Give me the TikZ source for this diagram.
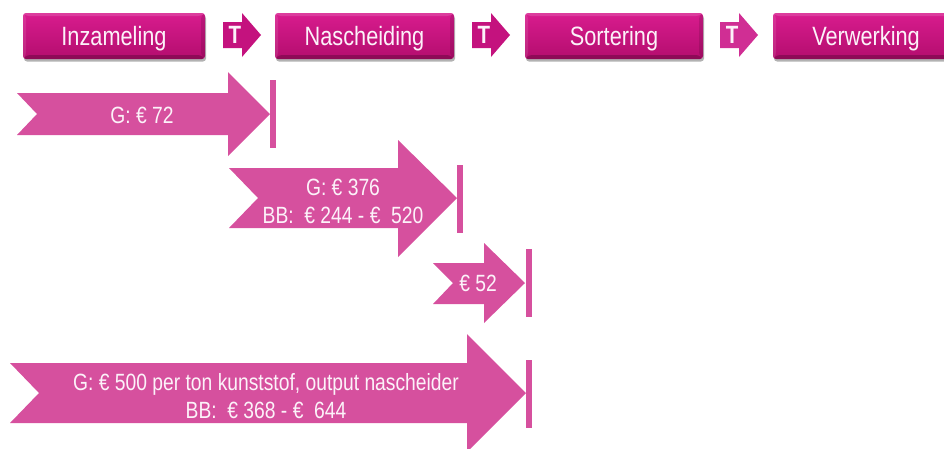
\documentclass[tikz,border=0pt]{standalone}
\usepackage{fontspec}
\setmainfont[FakeStretch=0.82]{Liberation Sans}
\usetikzlibrary{shadows}

\definecolor{flowpink}{RGB}{214,80,158}
\definecolor{stagetop}{RGB}{216,28,142}
\definecolor{stagebot}{RGB}{180,13,110}
\definecolor{tmark}{RGB}{196,18,126}
\definecolor{tmarklight}{RGB}{208,46,148}
\definecolor{labelwhite}{RGB}{252,242,249}

\tikzset{
  stage/.style={rounded corners=3pt, top color=stagetop, bottom color=stagebot,
    minimum height=46pt, inner sep=0pt, text=labelwhite,
    font=\fontsize{26.5}{30}\selectfont, text height=19pt, text depth=0pt,
    drop shadow={shadow xshift=1pt, shadow yshift=-2.5pt, opacity=0.3, fill=black},
    path picture={
      \coordinate (bb-sw) at (path picture bounding box.south west);
      \coordinate (bb-ne) at (path picture bounding box.north east);
      \fill[black, opacity=0.22] (bb-sw) -- (bb-sw -| bb-ne)
        -- ([shift={(-4pt,4pt)}]bb-sw -| bb-ne) -- ([shift={(4pt,4pt)}]bb-sw) -- cycle;
      \fill[black, opacity=0.12] (bb-sw -| bb-ne) -- (bb-ne)
        -- ([shift={(-4pt,-3pt)}]bb-ne) -- ([shift={(-4pt,4pt)}]bb-sw -| bb-ne) -- cycle;
      \fill[white, opacity=0.10] (bb-sw) -- (bb-sw |- bb-ne)
        -- ([shift={(3pt,-3pt)}]bb-sw |- bb-ne) -- ([shift={(3pt,4pt)}]bb-sw) -- cycle;
      \fill[white, opacity=0.14] (bb-sw |- bb-ne) -- (bb-ne)
        -- ([shift={(-4pt,-3pt)}]bb-ne) -- ([shift={(3pt,-3pt)}]bb-sw |- bb-ne) -- cycle;
    }},
  tletter/.style={text=labelwhite, inner sep=0pt, font=\fontsize{25}{25}\selectfont\bfseries,
    text height=17pt, text depth=0pt},
  flowtext/.style={text=labelwhite, inner sep=0pt, font=\fontsize{23.5}{28}\selectfont,
    text height=16.5pt, text depth=0pt},
  flow/.style={fill=flowpink},
  endbar/.style={fill=flowpink}
}

\begin{document}
\begin{tikzpicture}[x=1pt, y=-1pt]
\useasboundingbox (0,0) rectangle (944,448);
\clip (0,0) rectangle (944,448);

% chain stages
\node[stage, minimum width=182pt] (inzameling) at (114,36) {Inzameling};
\node[stage, minimum width=179pt] (nascheiding) at (364.5,36) {Nascheiding};
\node[stage, minimum width=178pt] (sortering) at (614,36) {Sortering};
\node[stage, minimum width=186pt] (verwerking) at (866,36) {Verwerking};

% transport marks between the stages
\foreach \x/\c/\n in {223/tmark/t1, 472/tmark/t2, 720/tmarklight/t3} {
  \fill[\c] (\x,22) -- (\x+19,22) -- (\x+19,13) -- (\x+38,35) -- (\x+19,57)
    -- (\x+19,48) -- (\x,48) -- cycle;
  \node[tletter] (\n) at (\x+12,35) {T};
}

% cost arrows with their end bars
\fill[flow] (17,93) -- (228,93) -- (228,72) -- (270,114) -- (228,156) -- (228,135)
  -- (17,135) -- (37,114) -- cycle;
\fill[endbar] (270,80) rectangle (276,148);
\node[flowtext] (g72) at (142,115) {G: € 72};

\fill[flow] (229,168) -- (398,168) -- (398,140) -- (457,198) -- (398,257) -- (398,228)
  -- (229,228) -- (258,198) -- cycle;
\fill[endbar] (457,165) rectangle (463,233);
\node[flowtext] (g376) at (343,187) {G: € 376};
\node[flowtext] (bb376) at (343,215) {BB:\ \ € 244 - €\ \ 520};

\fill[flow] (433,263) -- (484,263) -- (484,243) -- (525,283) -- (484,323) -- (484,304)
  -- (433,304) -- (453,283) -- cycle;
\fill[endbar] (526,249) rectangle (532,317);
\node[flowtext] (e52) at (478,283) {€ 52};

\fill[flow] (10,363) -- (467,363) -- (467,334) -- (526,393) -- (467,452) -- (467,423)
  -- (10,423) -- (39,393) -- cycle;
\fill[endbar] (526,360) rectangle (532,428);
\node[flowtext] (g500) at (266,382) {G: € 500 per ton kunststof, output nascheider};
\node[flowtext] (bb500) at (266,410) {BB:\ \ € 368 - €\ \ 644};
\end{tikzpicture}
\end{document}
